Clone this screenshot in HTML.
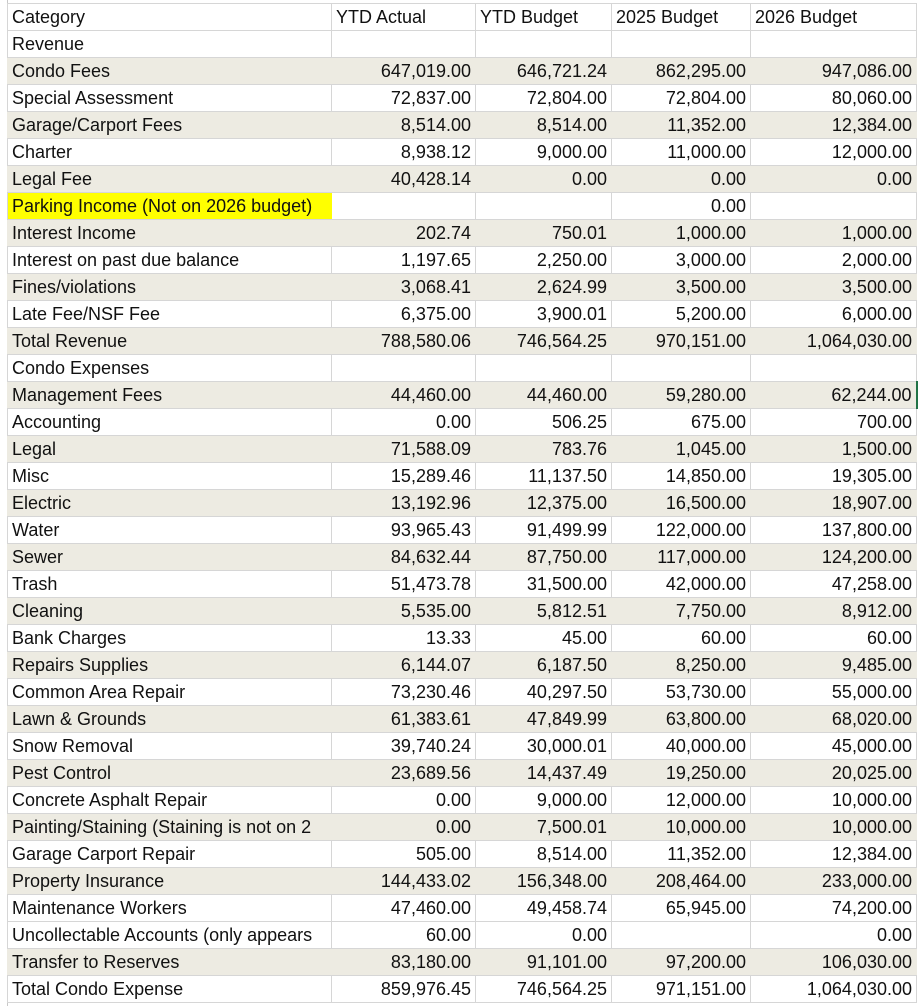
<!DOCTYPE html>
<html><head><meta charset="utf-8"><style>
body{margin:0;background:#fff;width:919px;height:1006px;overflow:hidden;position:relative}
table{position:absolute;left:7px;top:3px;width:909px;border-collapse:collapse;table-layout:fixed;font-family:"Liberation Sans",sans-serif;font-size:18px;color:#111}
td{height:26px;padding:0 4px;border:1px solid #d6d6d6;white-space:nowrap;overflow:hidden;text-align:right;line-height:26px}
td:first-child{text-align:left}
tr.s td{background:#edebe2;border-left-color:#edebe2;border-right-color:#edebe2}
tr.h td{text-align:left}
.y{background:#ffff00;}
.lt{position:absolute;left:0;top:0;width:7px;height:1006px;border-right:1px solid #c8c8c8;background:#fff}
</style></head><body>
<div class="lt"></div>
<table>
<colgroup><col style="width:324px"><col style="width:144px"><col style="width:136px"><col style="width:139px"><col style="width:166px"></colgroup>
<tr class="h"><td>Category</td><td>YTD Actual</td><td>YTD Budget</td><td>2025 Budget</td><td>2026 Budget</td></tr>
<tr><td>Revenue</td><td></td><td></td><td></td><td></td></tr>
<tr class="s"><td>Condo Fees</td><td>647,019.00</td><td>646,721.24</td><td>862,295.00</td><td>947,086.00</td></tr>
<tr><td>Special Assessment</td><td>72,837.00</td><td>72,804.00</td><td>72,804.00</td><td>80,060.00</td></tr>
<tr class="s"><td>Garage/Carport Fees</td><td>8,514.00</td><td>8,514.00</td><td>11,352.00</td><td>12,384.00</td></tr>
<tr><td>Charter</td><td>8,938.12</td><td>9,000.00</td><td>11,000.00</td><td>12,000.00</td></tr>
<tr class="s"><td>Legal Fee</td><td>40,428.14</td><td>0.00</td><td>0.00</td><td>0.00</td></tr>
<tr><td class="y" style="border-right-color:#ffff00">Parking Income (Not on 2026 budget)</td><td style="border-left:none"></td><td></td><td>0.00</td><td></td></tr>
<tr class="s"><td>Interest Income</td><td>202.74</td><td>750.01</td><td>1,000.00</td><td>1,000.00</td></tr>
<tr><td>Interest on past due balance</td><td>1,197.65</td><td>2,250.00</td><td>3,000.00</td><td>2,000.00</td></tr>
<tr class="s"><td>Fines/violations</td><td>3,068.41</td><td>2,624.99</td><td>3,500.00</td><td>3,500.00</td></tr>
<tr><td>Late Fee/NSF Fee</td><td>6,375.00</td><td>3,900.01</td><td>5,200.00</td><td>6,000.00</td></tr>
<tr class="s"><td>Total Revenue</td><td>788,580.06</td><td>746,564.25</td><td>970,151.00</td><td>1,064,030.00</td></tr>
<tr><td>Condo Expenses</td><td></td><td></td><td></td><td></td></tr>
<tr class="s"><td>Management Fees</td><td>44,460.00</td><td>44,460.00</td><td>59,280.00</td><td style="border-right:2px solid #217346">62,244.00</td></tr>
<tr><td>Accounting</td><td>0.00</td><td>506.25</td><td>675.00</td><td>700.00</td></tr>
<tr class="s"><td>Legal</td><td>71,588.09</td><td>783.76</td><td>1,045.00</td><td>1,500.00</td></tr>
<tr><td>Misc</td><td>15,289.46</td><td>11,137.50</td><td>14,850.00</td><td>19,305.00</td></tr>
<tr class="s"><td>Electric</td><td>13,192.96</td><td>12,375.00</td><td>16,500.00</td><td>18,907.00</td></tr>
<tr><td>Water</td><td>93,965.43</td><td>91,499.99</td><td>122,000.00</td><td>137,800.00</td></tr>
<tr class="s"><td>Sewer</td><td>84,632.44</td><td>87,750.00</td><td>117,000.00</td><td>124,200.00</td></tr>
<tr><td>Trash</td><td>51,473.78</td><td>31,500.00</td><td>42,000.00</td><td>47,258.00</td></tr>
<tr class="s"><td>Cleaning</td><td>5,535.00</td><td>5,812.51</td><td>7,750.00</td><td>8,912.00</td></tr>
<tr><td>Bank Charges</td><td>13.33</td><td>45.00</td><td>60.00</td><td>60.00</td></tr>
<tr class="s"><td>Repairs Supplies</td><td>6,144.07</td><td>6,187.50</td><td>8,250.00</td><td>9,485.00</td></tr>
<tr><td>Common Area Repair</td><td>73,230.46</td><td>40,297.50</td><td>53,730.00</td><td>55,000.00</td></tr>
<tr class="s"><td>Lawn &amp; Grounds</td><td>61,383.61</td><td>47,849.99</td><td>63,800.00</td><td>68,020.00</td></tr>
<tr><td>Snow Removal</td><td>39,740.24</td><td>30,000.01</td><td>40,000.00</td><td>45,000.00</td></tr>
<tr class="s"><td>Pest Control</td><td>23,689.56</td><td>14,437.49</td><td>19,250.00</td><td>20,025.00</td></tr>
<tr><td>Concrete Asphalt Repair</td><td>0.00</td><td>9,000.00</td><td>12,000.00</td><td>10,000.00</td></tr>
<tr class="s"><td>Painting/Staining (Staining is not on 2</td><td>0.00</td><td>7,500.01</td><td>10,000.00</td><td>10,000.00</td></tr>
<tr><td>Garage Carport Repair</td><td>505.00</td><td>8,514.00</td><td>11,352.00</td><td>12,384.00</td></tr>
<tr class="s"><td>Property Insurance</td><td>144,433.02</td><td>156,348.00</td><td>208,464.00</td><td>233,000.00</td></tr>
<tr><td>Maintenance Workers</td><td>47,460.00</td><td>49,458.74</td><td>65,945.00</td><td>74,200.00</td></tr>
<tr><td>Uncollectable Accounts (only appears</td><td>60.00</td><td>0.00</td><td></td><td>0.00</td></tr>
<tr class="s"><td>Transfer to Reserves</td><td>83,180.00</td><td>91,101.00</td><td>97,200.00</td><td>106,030.00</td></tr>
<tr><td>Total Condo Expense</td><td>859,976.45</td><td>746,564.25</td><td>971,151.00</td><td>1,064,030.00</td></tr>
</table>
</body></html>
